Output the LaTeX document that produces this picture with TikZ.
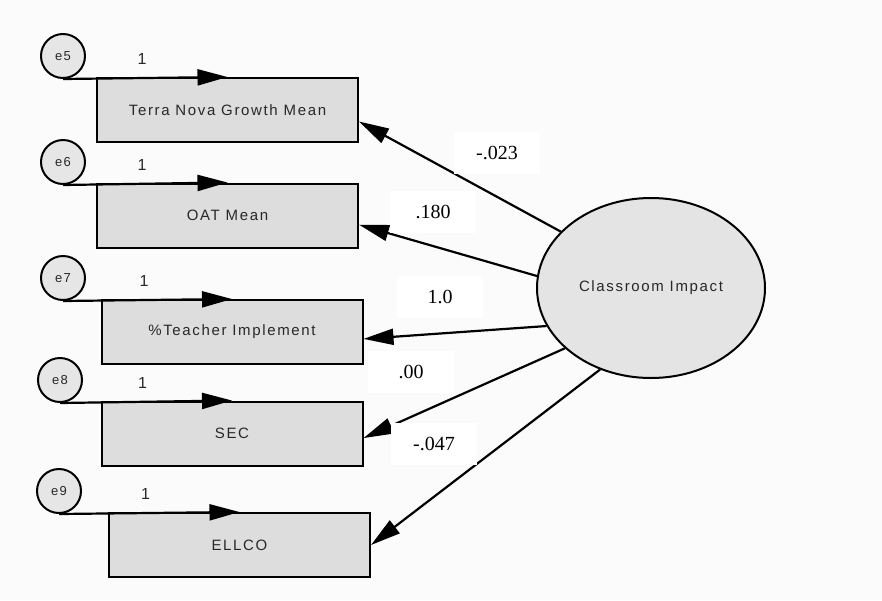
\documentclass[tikz,border=0pt]{standalone}
\usepackage{fontspec}
\setmainfont{Liberation Serif}
\newfontfamily\amosfont[LetterSpace=11]{Liberation Sans}
\usetikzlibrary{arrows.meta, shapes.geometric}

\definecolor{boxgray}{RGB}{221,221,221}
\definecolor{ellgray}{RGB}{228,228,228}
\definecolor{errgray}{RGB}{230,230,230}
\definecolor{bggray}{RGB}{251,251,251}
\definecolor{txtgray}{RGB}{40,40,40}

\begin{document}
\begin{tikzpicture}[x=1pt, y=-1pt, >={Triangle[length=30pt, width=16pt]},
		obs/.style={rectangle, draw=black, fill=boxgray, line width=2pt, minimum width=261pt, minimum height=64pt, inner sep=0pt, font=\amosfont\fontsize{15}{17}\selectfont, text=txtgray},
		err/.style={circle, draw=black, fill=errgray, line width=2pt, minimum size=44pt, inner sep=0pt, font=\amosfont\fontsize{13}{15}\selectfont, text=txtgray},
		latent/.style={ellipse, draw=black, fill=ellgray, line width=2pt, minimum width=228pt, minimum height=180pt, inner sep=0pt, font=\amosfont\fontsize{15}{17}\selectfont, text=txtgray},
		coef/.style={fill=white, minimum width=86pt, minimum height=42pt, inner sep=0pt, font=\fontsize{20}{22}\selectfont},
		one/.style={above=12pt, inner sep=0pt, font=\amosfont\fontsize{16}{18}\selectfont, text=txtgray},
		load/.style={->, line width=2.2pt}]
		
		% Background
		\path[fill=bggray, use as bounding box] (0,0) rectangle (882,600);
		
		% Observed variables
		\node[obs] (tn_mean) at (227.5, 110) {Terra Nova Growth Mean};
		\node[obs] (oat_mean) at (227.5, 215.5) {OAT Mean};
		\node[obs] (pct_teacher) at (232, 332) {\%Teacher Implement};
		\node[obs] (sec) at (232, 433.5) {SEC};
		\node[obs] (ellco) at (239.5, 545) {ELLCO};
		
		% Error terms
		\node[err] (e5) at (63, 56) {e5};
		\node[err] (e6) at (63, 162) {e6};
		\node[err] (e7) at (63, 278) {e7};
		\node[err] (e8) at (60, 380) {e8};
		\node[err] (e9) at (59, 491) {e9};
		
		% Latent variable
		\node[latent] (class_impact) at (651, 288) {Classroom Impact};
		
		% Links errors -> observed
		\draw[load] (e5.south) -- node[one, pos=.48] {1} (tn_mean.north);
		\draw[load] (e6.south) -- node[one, pos=.48] {1} (oat_mean.north);
		\draw[load] (e7.south) -- node[one, pos=.48] {1} (pct_teacher.north);
		\draw[load] (e8.south) -- node[one, pos=.48] {1} (sec.north);
		\draw[load] (e9.south) -- node[one, pos=.48] {1} (ellco.north);
		
		% Links latent -> observed
		\draw[load] (class_impact.148) -- (tn_mean.-5);
		\draw[load] (class_impact.174) -- (oat_mean.-4);
		\draw[load] (class_impact.200) -- (pct_teacher.-3);
		\draw[load] (class_impact.215) -- (sec.-2);
		\draw[load] (class_impact.238) -- (ellco.east);
		
		% Loadings
		\node[coef] (c_tn) at (497, 153) {-.023};
		\node[coef] (c_oat) at (433, 212) {.180};
		\node[coef] (c_pct) at (440, 297) {1.0};
		\node[coef] (c_sec) at (411, 372) {.00};
		\node[coef] (c_ellco) at (434, 444) {-.047};
		
	\end{tikzpicture}
\end{document}
